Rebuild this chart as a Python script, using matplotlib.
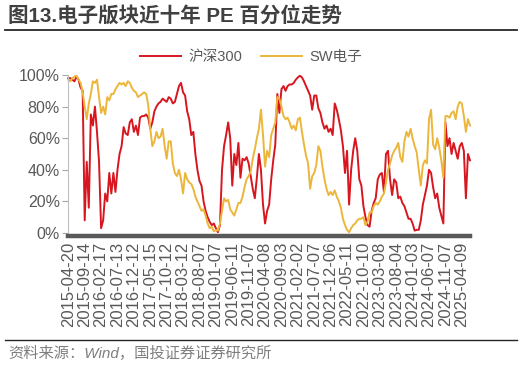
import matplotlib
matplotlib.use("Agg")
import matplotlib.pyplot as plt
from matplotlib.lines import Line2D
import numpy as np

plt.rcParams['font.family'] = ['Liberation Sans', 'Noto Sans CJK SC', 'DejaVu Sans']

# dates shown on the x axis (one every 100 trading days)
tick_labels = ['2015-04-20', '2015-09-14', '2016-02-17', '2016-07-13', '2016-12-12',
               '2017-05-15', '2017-10-12', '2018-03-12', '2018-08-07', '2019-01-07',
               '2019-06-11', '2019-11-07', '2020-04-08', '2020-09-03', '2021-02-02',
               '2021-07-07', '2021-12-06', '2022-05-11', '2022-10-10', '2023-03-08',
               '2023-08-04', '2024-01-03', '2024-06-07', '2024-11-07', '2025-04-09']
step = 8  # points between two labels

# PE percentile (%)
hs300 = [98, 98, 97, 96, 99, 97, 92, 90, 8, 45,
         16, 75, 68, 80, 64, 45, 3, 8, 25, 20,
         38, 25, 38, 26, 40, 50, 55, 67, 63, 62,
         70, 72, 64, 68, 62, 73, 74, 74, 75, 73,
         66, 70, 77, 80, 82, 83, 85, 84, 83, 86,
         85, 82, 83, 88, 93, 95, 89, 87, 77, 72,
         62, 64, 50, 40, 33, 30, 20, 14, 10, 7,
         5, 6, 3, 0.5, 5, 40, 55, 62, 70, 60,
         30, 50, 43, 57, 35, 47, 46, 48, 44, 36,
         28, 22, 35, 50, 40, 18, 6, 14, 18, 34,
         46, 56, 88, 76, 91, 93, 90, 93, 94, 94,
         95, 97, 98.5, 99.5, 98.5, 96, 93, 90, 87, 78,
         87, 87, 79, 76, 70, 66, 68, 64, 66, 62,
         82, 78, 72, 65, 55, 38, 52, 18, 40, 52,
         60, 52, 34, 30, 17, 10, 5, 4, 14, 19,
         22, 34, 37, 38, 26, 50, 52, 34, 24, 34,
         32, 22, 23, 19, 17, 13, 9, 9, 6, 1.5,
         2, 2, 8, 18, 24, 30, 40, 38, 29, 22,
         25, 16, 11, 6, 70, 55, 60, 50, 57, 52,
         47, 55, 57, 52, 22, 50, 46]
sw_elec = [97, 96, 98, 99, 99.5, 97, 95, 89, 80, 72,
           82, 88, 96, 95, 97, 86, 76, 80, 75, 86,
           84, 88, 88, 91, 93, 95, 94, 95, 93, 96,
           95, 92, 90, 89, 86, 87, 88, 89, 88, 81,
           66, 55, 58, 64, 60, 61, 66, 55, 47, 58,
           58, 44, 38, 36, 40, 34, 25, 38, 34, 32,
           31, 28, 23, 20, 17, 14, 15, 11, 6, 3,
           4, 1, 2, 1.5, 6, 14, 22, 20, 21, 15,
           13, 11, 15, 19, 19, 23, 29, 34, 36, 39,
           47, 53, 60, 66, 78, 62, 42, 52, 48, 62,
           66, 70, 86, 85, 80, 74, 72, 73, 70, 66,
           68, 65, 72, 73, 64, 56, 49, 44, 28, 36,
           38, 43, 55, 52, 42, 34, 28, 24, 26, 24,
           27, 23, 20, 16, 9, 5, 2, 0.5, 3, 5,
           6, 8, 9, 9, 10, 5, 7, 13, 13, 17,
           19, 18, 20, 23, 25, 32, 40, 44, 49, 52,
           54, 57, 48, 45, 58, 64, 61, 66, 60, 55,
           51, 40, 30, 43, 46, 44, 72, 78, 56, 53,
           60, 54, 46, 35, 74, 74, 73, 76, 77, 72,
           80, 83, 82, 74, 64, 72, 68]

red = '#D7161F'
yellow = '#ECB63B'
gray = '#595959'

fig = plt.figure(figsize=(5.27, 3.66), dpi=100)
ax = fig.add_axes([68.3 / 527, 133 / 366, (470 - 68.3) / 527, 158 / 366])

x = np.arange(len(hs300))
ax.plot(x, np.array(hs300) / 100, color=red, lw=1.4, label='沪深300', clip_on=False)
ax.plot(x, np.array(sw_elec) / 100, color=yellow, lw=1.4, label='SW电子', clip_on=False)

ax.set_xlim(0, len(hs300) - 1)
ax.set_ylim(0, 1)
ax.set_yticks(np.arange(0, 1.01, 0.2))
ax.set_yticklabels([f'{int(round(v * 100))}%' for v in np.arange(0, 1.01, 0.2)])
ax.set_xticks(np.arange(len(tick_labels)) * step)
ax.set_xticklabels(tick_labels)

ax.tick_params(axis='y', colors='#A6A6A6', length=4, width=0.8, labelsize=11.5,
               labelcolor=gray, pad=2)
ax.tick_params(axis='x', length=0, labelsize=12, labelcolor=gray, pad=4,
               labelrotation=90)

for s in ['top', 'right']:
    ax.spines[s].set_visible(False)
ax.spines['left'].set_color('#BFBFBF')
ax.spines['left'].set_linewidth(0.8)
ax.spines['bottom'].set_color(gray)
ax.spines['bottom'].set_linewidth(3.2)
ax.spines['bottom'].set_position(('outward', 2.2))

leg = fig.legend(loc='center', bbox_to_anchor=(251 / 527, 1 - 57 / 366), ncol=2,
                 frameon=False, fontsize=10.5, handlelength=2.8, handletextpad=0.5,
                 columnspacing=1.3)
for t in leg.get_texts():
    t.set_color(gray)

fig.text(8 / 527, 1 - 17 / 366, '图13.电子版块近十年 PE 百分位走势', fontsize=14.8,
         fontweight='bold', color='#404040', va='center', ha='left')
fig.add_artist(Line2D([5 / 527, 517 / 527], [1 - 29.5 / 366] * 2, color='#262626',
                      lw=1.3, transform=fig.transFigure))
fig.add_artist(Line2D([5 / 527, 517 / 527], [1 - 340 / 366] * 2, color='#262626',
                      lw=1.0, transform=fig.transFigure))
fig.text(8 / 527, 1 - 353 / 366, '资料来源：Wind，国投证券证券研究所', fontsize=11,
         style='italic', color='#7F7F7F', va='center', ha='left')

fig.savefig('out.png', dpi=100)
